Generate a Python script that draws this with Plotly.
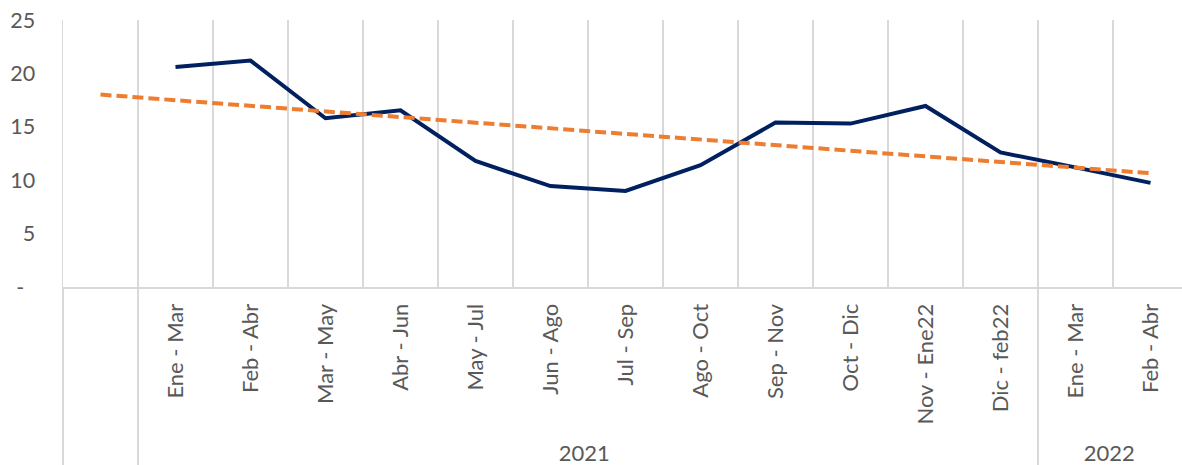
import numpy as np
import plotly.graph_objects as go

# ---- data ----
groups = [" ", "2021", "2021", "2021", "2021", "2021", "2021", "2021", "2021",
          "2021", "2021", "2021", "2021", "2022", "2022"]
periods = [" ", "Ene - Mar", "Feb - Abr", "Mar - May", "Abr - Jun", "May - Jul",
           "Jun - Ago", "Jul - Sep", "Ago - Oct", "Sep - Nov", "Oct - Dic",
           "Nov - Ene22", "Dic - feb22", "Ene - Mar", "Feb - Abr"]
values = [None, 20.6, 21.2, 15.8, 16.55, 11.8, 9.45, 9.0, 11.4, 15.4, 15.3,
          16.95, 12.6, 11.2, 9.75]
y_tickvals = [0, 5, 10, 15, 20, 25]
y_ticktext = ["-\u00a0\u00a0", "5", "10", "15", "20", "25"]

# ---- linear trendline (Excel-style, computed from the series) ----
idx = np.arange(len(values))
mask = np.array([v is not None for v in values])
coef = np.polyfit(idx[mask], np.array([v for v in values if v is not None], float), 1)
trend = np.polyval(coef, idx)

FONT = "Lato"
GREY = "#595959"
LINEC = "#d9d9d9"

fig = go.Figure()
fig.add_trace(go.Scatter(
    x=[groups, periods], y=values, mode="lines",
    line=dict(color="#002060", width=4), connectgaps=False,
    showlegend=False, hoverinfo="skip"))
fig.add_trace(go.Scatter(
    x=[groups, periods], y=trend, mode="lines",
    line=dict(color="#ED7D31", width=4, dash="11px,5px"),
    showlegend=False, hoverinfo="skip"))

fig.update_layout(
    width=1182, height=465,
    margin=dict(l=63, r=0, t=20, b=178, autoexpand=False),
    paper_bgcolor="white", plot_bgcolor="white",
    font=dict(family=FONT, size=21, color=GREY),
    xaxis=dict(
        type="multicategory",
        automargin=False,
        range=[-0.5, -0.5 + 1119 / 75],
        tickangle=-90,
        showgrid=True, gridcolor=LINEC, gridwidth=1.5,
        showline=True, linecolor=LINEC, linewidth=2,
        showdividers=True, dividercolor=LINEC, dividerwidth=1.5,
        tickfont=dict(family=FONT, size=22, color=GREY),
        ticks="",
        ticklabelstandoff=6,
        zeroline=False,
    ),
    yaxis=dict(
        automargin=False,
        range=[0, 25],
        tickvals=y_tickvals, ticktext=y_ticktext,
        showgrid=False, zeroline=False,
        showline=True, linecolor=LINEC, linewidth=1.5,
        tickfont=dict(family=FONT, size=21.5, color=GREY),
        ticks="",
        ticklabelstandoff=22,
    ),
)

fig.write_html("out.html",
               config={"displayModeBar": False, "staticPlot": True},
               post_script="document.body.style.margin='0px';document.body.style.padding='0px';")
